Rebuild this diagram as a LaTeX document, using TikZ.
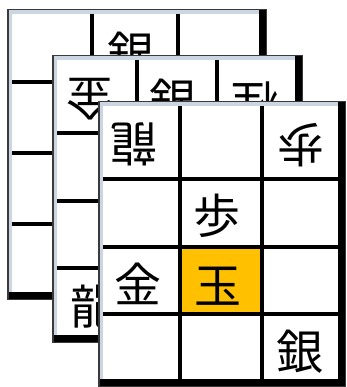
\documentclass[tikz,border=0pt]{standalone}
\usepackage{fontspec}
\newfontfamily\jpfont{Noto Sans CJK JP}
\definecolor{bevel}{HTML}{CCD5E2}
\definecolor{edgecol}{HTML}{3A3A3A}
\definecolor{gold}{HTML}{FFC000}
\tikzset{
  piece/.style={inner sep=0pt, font=\jpfont\fontsize{47}{47}\selectfont},
  gridline/.style={line width=3.5pt, black},
}
\newcommand\myboard[6]{%
  \fill[white] (#1,#2) rectangle (#3,#4);
  \fill[bevel] (#1,#2) rectangle (#1+5,#4);
  \fill[bevel] (#1,#2) rectangle (#3,#2+5);
  \foreach \xx in {#5} \draw[gridline] (\xx,#2+5) -- (\xx,#4);
  \foreach \yy in {#6} \draw[gridline] (#1+5,\yy) -- (#3,\yy);
  \fill[black] (#3-8.5,#2) rectangle (#3,#4);
  \fill[black] (#1,#4-8) rectangle (#3,#4);
  \draw[edgecol,line width=1.5pt] (#1+0.75,#2+0.75) rectangle (#3-0.75,#4-0.75);
}
\begin{document}
\begin{tikzpicture}[x=1pt,y=-1pt]
\useasboundingbox (0,0) rectangle (346,387);
% back board
\myboard{7}{9}{267}{300}{92,178}{82,153,224}
\node[piece] (b12) at (131,54) {銀};
% middle board
\myboard{52}{55}{303}{343}{137,217}{133,201,268}
\node[piece,rotate=180] (m11) at (90,99) {金};
\node[piece] (m12) at (173,101) {銀};
\node[piece,rotate=180] (m13) at (255,103) {桂};
\node[piece] (m41) at (94,307) {龍};
% front board
\myboard{98}{101}{346}{387}{180,262}{179,247,314}
\fill[gold] (181.75,248.75) rectangle (260.25,312.25);
\node[piece,rotate=180] (f11) at (134,144) {龍};
\node[piece,rotate=180] (f13) at (301,145) {歩};
\node[piece] (f22) at (217,216) {歩};
\node[piece] (f31) at (138,284) {金};
\node[piece] (f32) at (218,286) {玉};
\node[piece] (f43) at (300,352) {銀};
\end{tikzpicture}
\end{document}
